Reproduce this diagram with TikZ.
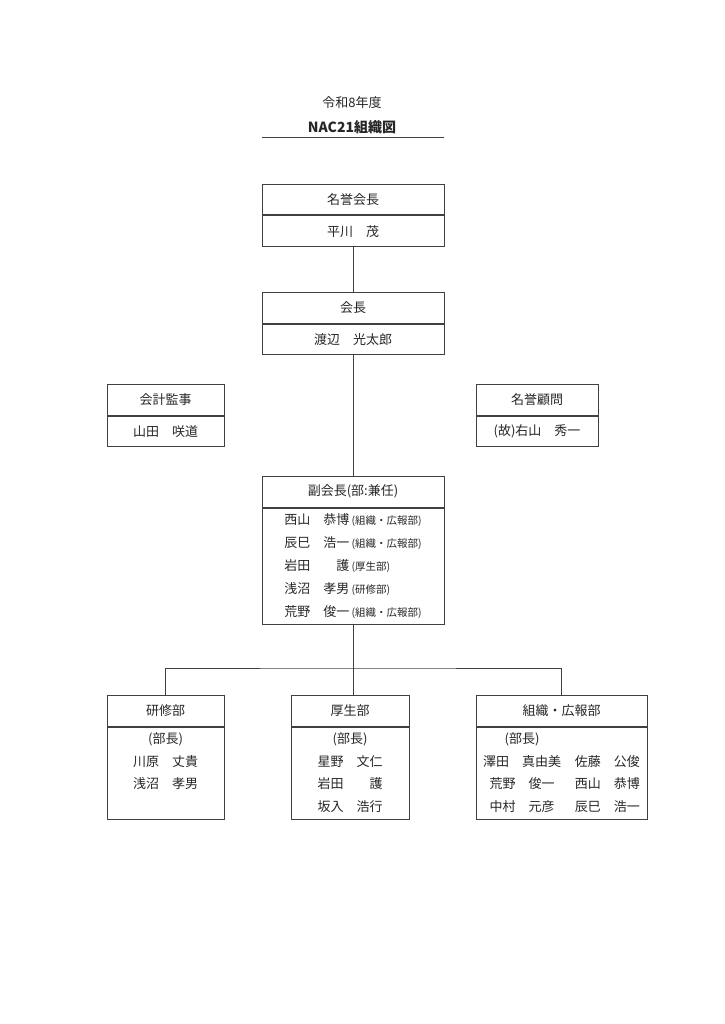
\documentclass[tikz,border=0pt]{standalone}
\usepackage{fontspec}
\setmainfont{Noto Sans CJK JP}
\usetikzlibrary{positioning}
\newcommand{\notetext}[1]{{\fontsize{10.5}{12}\selectfont #1}}
\tikzset{
  head/.style={draw=black!75, line width=1pt, text=black!85, minimum height=30.5pt, inner sep=0pt, anchor=north, font=\fontsize{13}{15}\selectfont},
  body/.style={draw=black!75, line width=1pt, text=black!85, inner sep=0pt, anchor=north, font=\fontsize{13}{22.4}\selectfont},
  wire/.style={draw=black!75, line width=1pt},
}
\begin{document}
\begin{tikzpicture}[x=1pt,y=-1pt]
\useasboundingbox (0,0) rectangle (724,1024);
\node[text=black!85, font=\fontsize{13}{15}\selectfont] (year) at (352,103) {令和8年度};
\node[text=black!85, font=\fontsize{14}{16}\selectfont\bfseries] (title) at (352,127) {NAC21組織図};
\draw[wire] (262,138) -- (444,138);
\node[head, minimum width=182pt] (hon) at (353,184) {名誉会長};
\node[body, minimum width=182pt, minimum height=30.5pt] (honname) at (hon.south) {平川　茂};
\node[head, minimum width=182pt] (pres) at (353,292) {会長};
\node[body, minimum width=182pt, minimum height=30.5pt] (presname) at (pres.south) {渡辺　光太郎};
\node[head, minimum width=117pt] (audit) at (165.5,384) {会計監事};
\node[body, minimum width=117pt, minimum height=30.5pt] (auditname) at (audit.south) {山田　咲道};
\node[head, minimum width=122pt] (adv) at (537,384) {名誉顧問};
\node[body, minimum width=122pt, minimum height=30.5pt] (advname) at (adv.south) {(故)右山　秀一};
\node[head, minimum width=182pt] (vice) at (353,476) {副会長(部:兼任)};
\node[body, minimum width=182pt, minimum height=116pt, font=\fontsize{13}{23}\selectfont] (vicebody) at (vice.south) {%
\begin{tabular}{@{}l@{\,}l@{}}
西山　恭博 & \notetext{(組織・広報部)}\\
辰巳　浩一 & \notetext{(組織・広報部)}\\
岩田　　護 & \notetext{(厚生部)}\\
浅沼　孝男 & \notetext{(研修部)}\\
荒野　俊一 & \notetext{(組織・広報部)}
\end{tabular}};
\node[head, minimum width=117pt] (train) at (165.5,695) {研修部};
\node[body, minimum width=117pt, minimum height=92pt] (trainbody) at (train.south) {%
\begin{tabular}{@{}c@{}}
(部長)\\
川原　丈貴\\
浅沼　孝男\\
~
\end{tabular}};
\node[head, minimum width=118pt] (welf) at (350,695) {厚生部};
\node[body, minimum width=118pt, minimum height=92pt] (welfbody) at (welf.south) {%
\begin{tabular}{@{}c@{}}
(部長)\\
星野　文仁\\
岩田　　護\\
坂入　浩行
\end{tabular}};
\node[head, minimum width=171pt] (org) at (561.5,695) {組織・広報部};
\node[body, minimum width=171pt, minimum height=92pt] (orgbody) at (org.south) {%
\begin{tabular}{@{}c@{\hspace{14pt}}c@{}}
(部長) & \\
澤田　真由美 & 佐藤　公俊\\
荒野　俊一 & 西山　恭博\\
中村　元彦 & 辰巳　浩一
\end{tabular}};
\coordinate (branch) at (353,668);
\draw[wire] (honname.south) -- (pres.north);
\draw[wire] (presname.south) -- (vice.north);
\draw[wire] (vicebody.south) -- (branch);
\draw[wire] (train.north) |- (branch) -| (org.north);
\draw[wire] (branch) -- (branch |- welf.north);
\end{tikzpicture}
\end{document}
